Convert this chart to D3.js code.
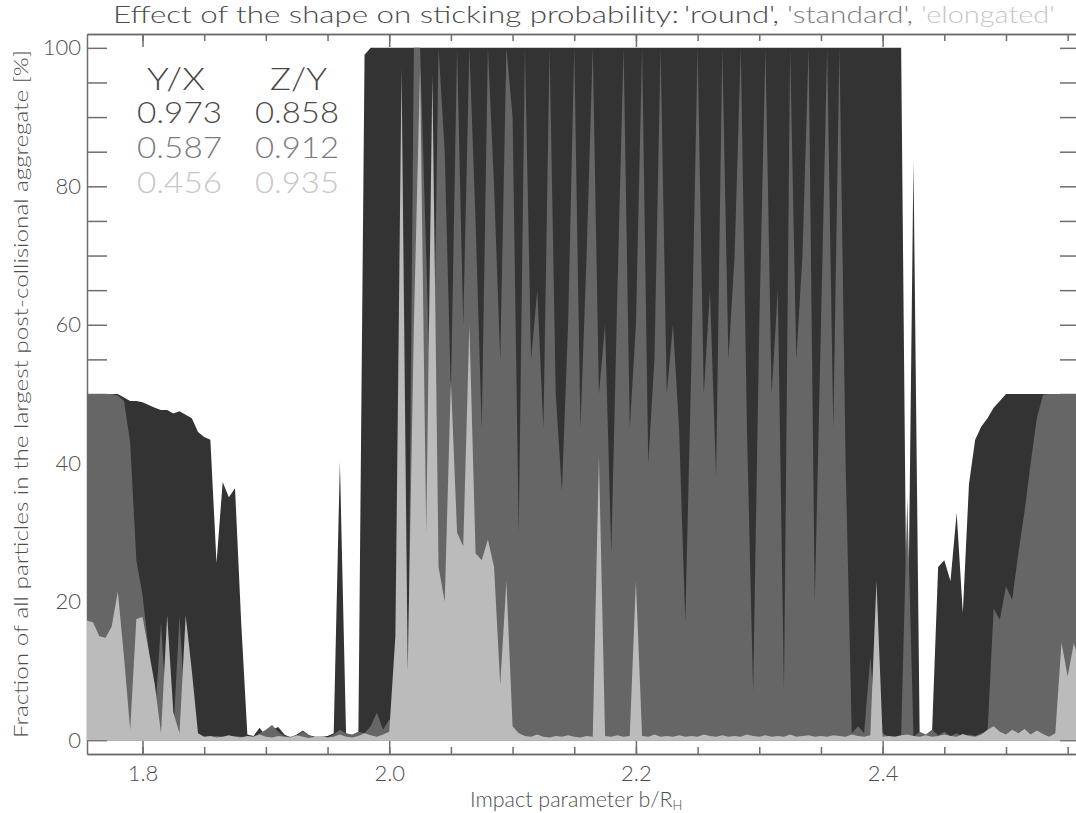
<!DOCTYPE html>
<html>
<head>
<meta charset="utf-8">
<script src="https://cdn.jsdelivr.net/npm/d3@7"></script>
<style>
  html, body { margin: 0; padding: 0; background: #fff; overflow: hidden; }
  svg { display: block; }
  text { font-family: Lato, "DejaVu Sans", sans-serif; font-weight: 300; }
</style>
</head>
<body>
<svg id="chart" width="1076" height="813"></svg>
<script>
// Impact parameter samples b/R_H
const impactB = [
  1.755,1.760,1.765,1.770,1.775,1.780,1.785,1.790,1.795,1.800,
  1.805,1.810,1.815,1.820,1.825,1.830,1.835,1.840,1.845,1.850,
  1.855,1.860,1.865,1.870,1.875,1.880,1.885,1.890,1.895,1.900,
  1.905,1.910,1.915,1.920,1.925,1.930,1.935,1.940,1.945,1.950,
  1.955,1.960,1.965,1.970,1.975,1.980,1.985,1.990,1.995,2.000,
  2.005,2.010,2.015,2.020,2.025,2.030,2.035,2.040,2.045,2.050,
  2.055,2.060,2.065,2.070,2.075,2.080,2.085,2.090,2.095,2.100,
  2.105,2.110,2.115,2.120,2.125,2.130,2.135,2.140,2.145,2.150,
  2.155,2.160,2.165,2.170,2.175,2.180,2.185,2.190,2.195,2.200,
  2.205,2.210,2.215,2.220,2.225,2.230,2.235,2.240,2.245,2.250,
  2.255,2.260,2.265,2.270,2.275,2.280,2.285,2.290,2.295,2.300,
  2.305,2.310,2.315,2.320,2.325,2.330,2.335,2.340,2.345,2.350,
  2.355,2.360,2.365,2.370,2.375,2.380,2.385,2.390,2.395,2.400,
  2.405,2.410,2.415,2.420,2.425,2.430,2.435,2.440,2.445,2.450,
  2.455,2.460,2.465,2.470,2.475,2.480,2.485,2.490,2.495,2.500,
  2.505,2.510,2.515,2.520,2.525,2.530,2.535,2.540,2.545,2.550,
  2.555,2.560
];

// Fraction of particles in the largest aggregate [%], one value per impact parameter
const roundFrac = [
  50,50,50,50,50,50,49.5,49,49,48.8,
  48.4,48,47.7,47.7,47.2,47.5,47,46.5,44.5,43.8,
  43.4,25.6,37.3,35.1,36.4,17,0.8,0.6,1.8,0.5,
  1.5,1.9,0.8,0.4,0.8,1.4,0.7,0.5,0.5,0.6,
  1.0,40.2,1.0,0.3,0.8,99,100,100,100,100,
  100,100,100,100,100,100,100,100,100,100,
  100,100,100,100,100,100,100,100,100,100,
  100,100,100,100,100,100,100,100,100,100,
  100,100,100,100,100,100,100,100,100,100,
  100,100,100,100,100,100,100,100,100,100,
  100,100,100,100,100,100,100,100,100,100,
  100,100,100,100,100,100,100,100,100,100,
  100,100,100,100,100,100,100,100,100,100,
  100,100,100,5,83.7,1,0.5,0.8,25,26,
  23,32.8,18.4,37,43.4,45.3,46.5,48,49,50,
  50,50,50,50,50,50,50,50,50,50,
  50,50
];

const standardFrac = [
  50,50,50,50,50,49.8,49,43,26,21,
  13,3,17,2,1,18,2,0.8,0.6,0.5,
  0.5,0.6,0.5,0.5,0.6,0.5,0.5,0.5,1.0,1.5,
  2.2,1.2,0.6,0.5,0.6,1.3,0.7,0.4,0.4,0.4,
  0.8,1.5,1.0,0.8,1.2,1,2,4,1.5,3,
  2,60,1,100,100,70,40,100,85,50,
  100,60,100,75,45,100,80,55,100,90,
  30,100,55,65,45,100,50,36,60,100,
  45,70,100,50,60,27,65,100,45,60,
  100,40,55,100,50,60,45,17,55,100,
  50,65,38,100,55,70,100,45,7,60,
  100,50,65,7,100,55,70,100,20,60,
  100,45,100,40,1,2,1,12,1,1,
  0.5,0.5,0.6,35,0.5,1.2,0.8,1.5,0.7,1.2,
  0.6,1.0,0.5,0.8,0.6,1,1,19,17.4,22.2,
  20.3,27,33,40,46.5,49.9,50,50,50,50,
  50,50
];

const elongatedFrac = [
  17.3,17,15,14.8,16.4,21.5,12,1.5,17.5,17.8,
  13,8,1,18,4,1,18,10,1,0.5,
  0.6,0.4,0.5,0.7,0.5,0.4,0.6,0.5,0.8,0.5,
  0.4,0.6,0.5,0.4,0.7,0.5,0.3,0.5,0.6,0.4,
  0.5,0.8,0.5,0.4,0.6,1.0,0.7,0.5,0.8,1.2,
  15,97,10,60,97,30,96,25,20,52,
  30,28,60,27,26,29,25,8,23,2,
  1,0.6,0.5,0.8,0.5,0.4,0.6,0.5,0.7,0.5,
  0.4,0.6,0.5,41,0.6,0.5,0.7,0.5,0.6,23,
  0.6,0.5,0.8,0.5,0.6,0.5,0.7,0.5,0.6,0.5,
  0.8,0.6,0.5,0.7,0.5,0.6,0.5,0.8,0.6,0.5,
  0.7,0.5,0.6,0.5,0.8,0.5,0.6,0.7,0.5,0.6,
  0.5,0.7,0.6,0.5,0.8,0.6,0.5,0.7,23,0.5,
  0.6,0.5,0.7,0.8,0.6,0.5,0.7,0.5,0.6,0.8,
  0.6,0.5,0.9,0.6,0.5,0.8,1.5,2.0,1.2,0.8,
  1.5,1.0,1.6,0.8,1.4,0.9,0.5,1.0,14.1,9.2,
  14,11
];

// Axis ticks
const xMajorTicks = [1.8, 2.0, 2.2, 2.4];
const xMinorTicks = [1.80,1.85,1.90,1.95,2.00,2.05,2.10,2.15,2.20,2.25,2.30,2.35,2.40,2.45,2.50,2.55];
const yTicks = [0,5,10,15,20,25,30,35,40,45,50,55,60,65,70,75,80,85,90,95,100];
const yLabelTicks = [0, 20, 40, 60, 80, 100];

// Shape table: axis ratios per shape
const shapeNames = ["'round',", "'standard',", "'elongated'"];
const ratioHeader = ["Y/X", "Z/Y"];
const ratioYX = ["0.973", "0.587", "0.456"];
const ratioZY = ["0.858", "0.912", "0.935"];

const titleText = "Effect of the shape on sticking probability:";
const xTitle = "Impact parameter b/R";
const xTitleSub = "H";
const yTitle = "Fraction of all particles in the largest post-collisional aggregate [%]";

// Styling
const fillColors = ["#333333", "#666666", "#bbbbbb"];
const textColors = ["#4a4a4a", "#7c7c7c", "#c6c6c6"];
const axisColor = "#6e6e6e";
const labelColor = "#4f4f4f";

const svg = d3.select("#chart");
const plot = { left: 87, right: 1080, top: 34, bottom: 754 };

const x = d3.scaleLinear().domain([1.755, 2.56]).range([plot.left, plot.right]);
const y = d3.scaleLinear().domain([-2, 102]).range([plot.bottom, plot.top]);

// Axes (drawn first; the filled areas lie over the left frame)
function styleAxis(g) {
  g.selectAll("path.domain").attr("stroke", axisColor).attr("stroke-width", 1.5);
  g.selectAll(".tick line").attr("stroke", axisColor).attr("stroke-width", 1.5);
  g.selectAll(".tick text").attr("fill", labelColor).attr("font-size", 22)
    .attr("font-family", "Lato, \"DejaVu Sans\", sans-serif").attr("font-weight", 300);
}

svg.append("g").attr("transform", `translate(0,${plot.bottom})`)
  .call(d3.axisBottom(x).tickValues(xMinorTicks).tickSizeInner(-7).tickSizeOuter(0).tickFormat(""))
  .call(styleAxis);
svg.append("g").attr("transform", `translate(0,${plot.bottom})`)
  .call(d3.axisBottom(x).tickValues(xMajorTicks).tickSizeInner(-13).tickSizeOuter(0)
    .tickPadding(11).tickFormat(d3.format(".1f")))
  .call(styleAxis);
svg.append("g").attr("transform", `translate(0,${plot.top})`)
  .call(d3.axisTop(x).tickValues(xMinorTicks).tickSizeInner(-7).tickSizeOuter(0).tickFormat(""))
  .call(styleAxis);
svg.append("g").attr("transform", `translate(0,${plot.top})`)
  .call(d3.axisTop(x).tickValues(xMajorTicks).tickSizeInner(-13).tickSizeOuter(0).tickFormat(""))
  .call(styleAxis);
svg.append("g").attr("transform", `translate(${plot.left},0)`)
  .call(d3.axisLeft(y).tickValues(yTicks).tickSizeInner(-20).tickSizeOuter(0).tickPadding(6)
    .tickFormat(d => yLabelTicks.includes(d) ? d3.format("d")(d) : ""))
  .call(styleAxis);
svg.append("g").attr("transform", `translate(${plot.right},0)`)
  .call(d3.axisRight(y).tickValues(yTicks).tickSizeInner(-20).tickSizeOuter(0).tickFormat(""))
  .call(styleAxis);

// Filled areas: round, then standard, then elongated on top
const seriesList = [roundFrac, standardFrac, elongatedFrac];
const area = d3.area()
  .x((d, i) => x(impactB[i]))
  .y0(y(0))
  .y1(d => y(d));

svg.append("defs").append("clipPath").attr("id", "plotClip")
  .append("rect").attr("x", plot.left).attr("y", plot.top)
  .attr("width", plot.right - plot.left).attr("height", plot.bottom - plot.top);

const areas = svg.append("g").attr("clip-path", "url(#plotClip)");
seriesList.forEach((vals, k) => {
  areas.append("path").datum(vals)
    .attr("d", area)
    .attr("fill", fillColors[k])
    .attr("stroke", "none");
});

// Title with shape names in their series colours
const titleG = svg.append("g");
const titleParts = [
  { text: titleText, x: 113, w: 566, c: "#4a4a4a" },
  { text: shapeNames[0], x: 684, w: 95, c: textColors[0] },
  { text: shapeNames[1], x: 787, w: 126, c: textColors[1] },
  { text: shapeNames[2], x: 921, w: 134, c: textColors[2] }
];
titleParts.forEach(p => {
  titleG.append("text").attr("x", p.x).attr("y", 23)
    .attr("font-size", 24).attr("fill", p.c)
    .attr("textLength", p.w).attr("lengthAdjust", "spacingAndGlyphs")
    .text(p.text);
});

// Shape ratio table
const table = svg.append("g");
table.append("text").attr("x", 147).attr("y", 90).attr("font-size", 32)
  .attr("fill", "#474747").attr("textLength", 58).attr("lengthAdjust", "spacingAndGlyphs").text(ratioHeader[0]);
table.append("text").attr("x", 270).attr("y", 90).attr("font-size", 32)
  .attr("fill", "#474747").attr("textLength", 57).attr("lengthAdjust", "spacingAndGlyphs").text(ratioHeader[1]);
ratioYX.forEach((v, k) => {
  const base = 123 + k * 35;
  table.append("text").attr("x", 137).attr("y", base).attr("font-size", 29)
    .attr("fill", textColors[k]).attr("textLength", 85).attr("lengthAdjust", "spacingAndGlyphs").text(v);
  table.append("text").attr("x", 255).attr("y", base).attr("font-size", 29)
    .attr("fill", textColors[k]).attr("textLength", 84).attr("lengthAdjust", "spacingAndGlyphs").text(ratioZY[k]);
});

// Axis titles
const xt = svg.append("text").attr("x", 470).attr("y", 807)
  .attr("font-size", 21.5).attr("fill", labelColor);
xt.append("tspan").text(xTitle);
xt.append("tspan").attr("font-size", 13).attr("dy", 3).text(xTitleSub);

svg.append("text")
  .attr("transform", "translate(28,394) rotate(-90)")
  .attr("text-anchor", "middle")
  .attr("font-size", 20).attr("fill", labelColor)
  .attr("textLength", 688).attr("lengthAdjust", "spacingAndGlyphs")
  .text(yTitle);
</script>
</body>
</html>
